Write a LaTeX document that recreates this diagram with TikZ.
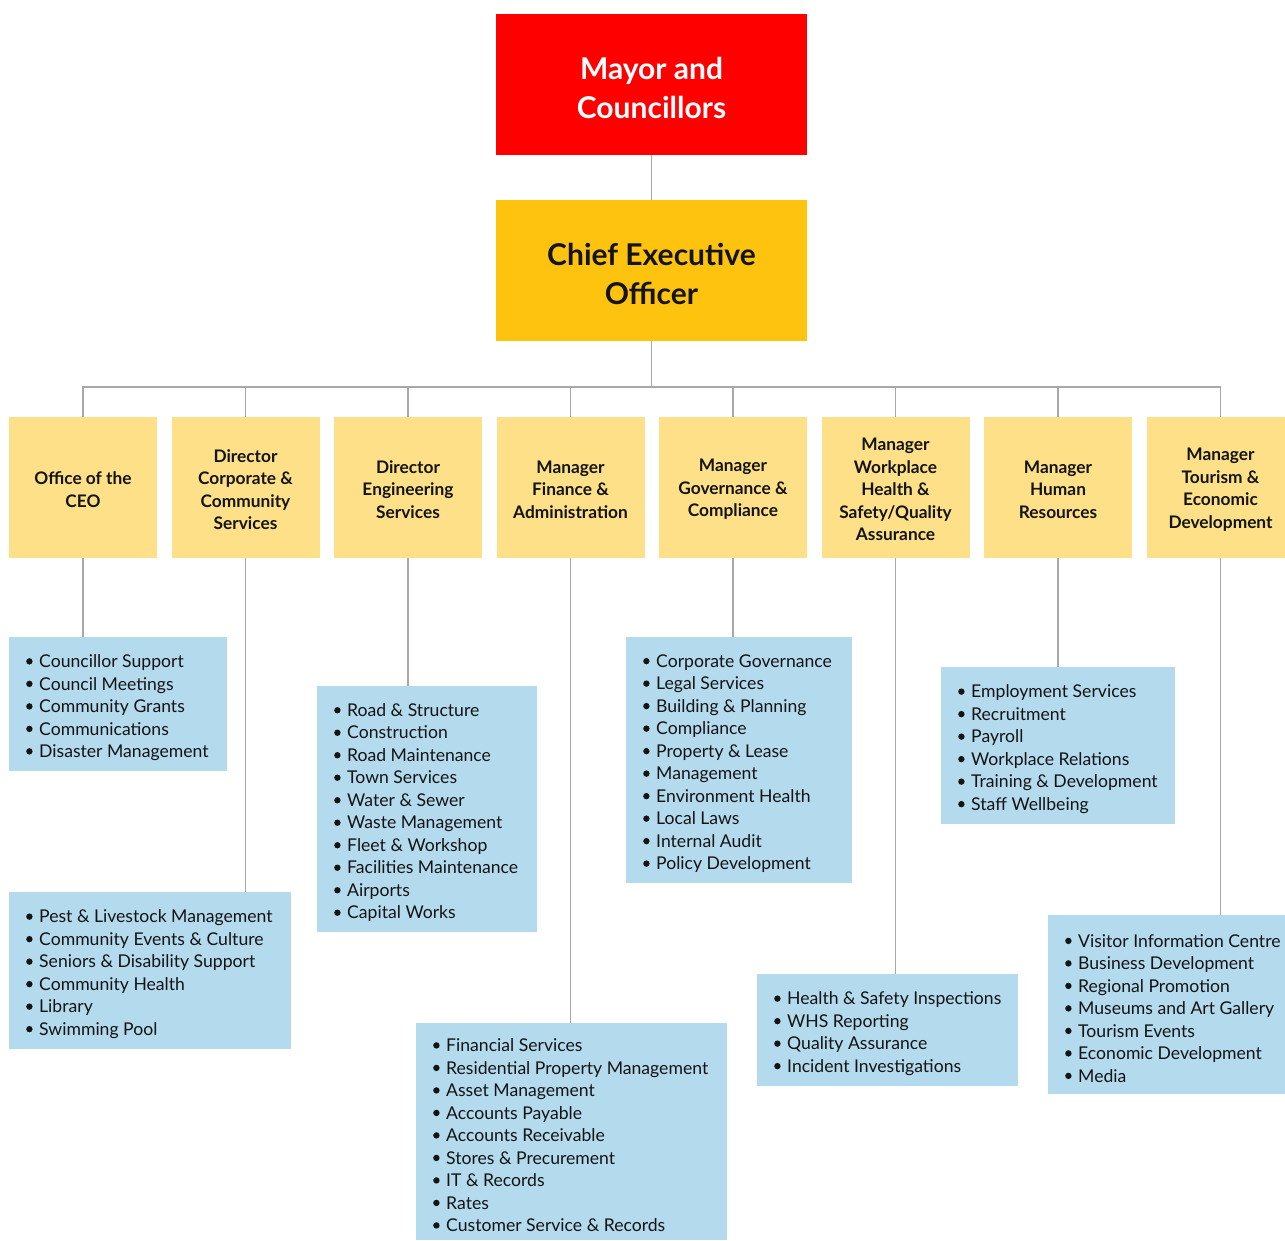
\documentclass[tikz,border=0pt]{standalone}
\usepackage{fontspec}
\setmainfont{Lato}
\definecolor{mred}{HTML}{FF0000}
\definecolor{ceoy}{HTML}{FDC30F}
\definecolor{topy}{HTML}{FDE087}
\definecolor{lblue}{HTML}{B4DAEE}
\definecolor{lgray}{HTML}{A8A8A8}
\definecolor{ink}{HTML}{141414}
\newcommand\bul{\makebox[13pt][l]{\tikz[baseline=0pt]\fill[ink] (3.3pt,6.2pt) circle[radius=3.2pt];}}
\begin{document}
\begin{tikzpicture}[x=1pt,y=-1pt,
 bigbox/.style={minimum width=311pt, minimum height=141pt, inner sep=0pt},
 bigtext/.style={inner sep=0pt, align=center, yshift=-3pt, font=\bfseries\fontsize{30}{39}\selectfont},
 topbox/.style={fill=topy, minimum width=148pt, minimum height=141pt, inner sep=0pt},
 toptext/.style={inner sep=0pt, align=center, yshift=-2pt, font=\bfseries\fontsize{17.3}{22.5}\selectfont, text=ink},
 listbox/.style={fill=lblue, anchor=north west, inner sep=0pt},
 listtext/.style={anchor=west, inner sep=0pt, align=left, yshift=-3.5pt, font=\fontsize{17.6}{22.5}\selectfont, text=ink},
 conn/.style={draw=lgray, line width=1.6pt}]
\useasboundingbox (0,0) rectangle (1285,1240);

\node[bigbox, fill=mred] (mayor) at (651.5,84.5) {};
\node[bigtext, text=white] (mayortx) at (mayor) {Mayor and\\Councillors};
\node[bigbox, fill=ceoy] (ceo) at (651.5,270.5) {};
\node[bigtext, text=ink] (ceotx) at (ceo) {Chief Executive\\Officer};

\node[topbox] (t1) at (83,487.5) {};
\node[toptext] (t1x) at (t1) {Office of the\\CEO};
\node[topbox] (t2) at (245.5,487.5) {};
\node[toptext] (t2x) at (t2) {Director\\Corporate \&\\Community\\Services};
\node[topbox] (t3) at (408,487.5) {};
\node[toptext] (t3x) at (t3) {Director\\Engineering\\Services};
\node[topbox] (t4) at (570.5,487.5) {};
\node[toptext] (t4x) at (t4) {Manager\\Finance \&\\Administration};
\node[topbox] (t5) at (733,487.5) {};
\node[toptext] (t5x) at (t5) {Manager\\Governance \&\\Compliance};
\node[topbox] (t6) at (895.5,487.5) {};
\node[toptext] (t6x) at (t6) {Manager\\Workplace\\Health \&\\Safety/Quality\\Assurance};
\node[topbox] (t7) at (1058,487.5) {};
\node[toptext] (t7x) at (t7) {Manager\\Human\\Resources};
\node[topbox] (t8) at (1220.5,487.5) {};
\node[toptext] (t8x) at (t8) {Manager\\Tourism \&\\Economic\\Development};

\node[listbox, minimum width=218pt, minimum height=134pt] (b1) at (9,637) {};
\node[listtext] (b1t) at ([xshift=17pt]b1.west) {\bul Councillor Support\\\bul Council Meetings\\\bul Community Grants\\\bul Communications\\\bul Disaster Management};

\node[listbox, minimum width=282pt, minimum height=157pt] (b2) at (9,892) {};
\node[listtext] (b2t) at ([xshift=17pt]b2.west) {\bul Pest \& Livestock Management\\\bul Community Events \& Culture\\\bul Seniors \& Disability Support\\\bul Community Health\\\bul Library\\\bul Swimming Pool};

\node[listbox, minimum width=220pt, minimum height=246pt] (b3) at (317,686) {};
\node[listtext] (b3t) at ([xshift=17pt]b3.west) {\bul Road \& Structure\\\bul Construction\\\bul Road Maintenance\\\bul Town Services\\\bul Water \& Sewer\\\bul Waste Management\\\bul Fleet \& Workshop\\\bul Facilities Maintenance\\\bul Airports\\\bul Capital Works};

\node[listbox, minimum width=311pt, minimum height=217pt] (b4) at (416,1023) {};
\node[listtext] (b4t) at ([xshift=17pt]b4.west) {\bul Financial Services\\\bul Residential Property Management\\\bul Asset Management\\\bul Accounts Payable\\\bul Accounts Receivable\\\bul Stores \& Precurement\\\bul IT \& Records\\\bul Rates\\\bul Customer Service \& Records};

\node[listbox, minimum width=226pt, minimum height=246pt] (b5) at (626,637) {};
\node[listtext] (b5t) at ([xshift=17pt]b5.west) {\bul Corporate Governance\\\bul Legal Services\\\bul Building \& Planning\\\bul Compliance\\\bul Property \& Lease\\\bul Management\\\bul Environment Health\\\bul Local Laws\\\bul Internal Audit\\\bul Policy Development};

\node[listbox, minimum width=261pt, minimum height=112pt] (b6) at (757,974) {};
\node[listtext] (b6t) at ([xshift=17pt]b6.west) {\bul Health \& Safety Inspections\\\bul WHS Reporting\\\bul Quality Assurance\\\bul Incident Investigations};

\node[listbox, minimum width=234pt, minimum height=157pt] (b7) at (941,667) {};
\node[listtext] (b7t) at ([xshift=17pt]b7.west) {\bul Employment Services\\\bul Recruitment\\\bul Payroll\\\bul Workplace Relations\\\bul Training \& Development\\\bul Staff Wellbeing};

\node[listbox, minimum width=245pt, minimum height=179pt] (b8) at (1048,915) {};
\node[listtext] (b8t) at ([xshift=17pt]b8.west) {\bul Visitor Information Centre\\\bul Business Development\\\bul Regional Promotion\\\bul Museums and Art Gallery\\\bul Tourism Events\\\bul Economic Development\\\bul Media};

\coordinate (bus) at (0,387);
\draw[conn] (mayor) -- (ceo);
\draw[conn] (ceo.south) -- (ceo.south |- bus);
\draw[conn] (t1.north) |- (t8.north |- bus) -- (t8.north);
\foreach \i in {2,...,7} {\draw[conn] (t\i.north) -- (t\i.north |- bus);}
\foreach \i in {1,...,8} {\draw[conn] (t\i.south) -- (t\i.south |- b\i.north);}
\end{tikzpicture}
\end{document}
